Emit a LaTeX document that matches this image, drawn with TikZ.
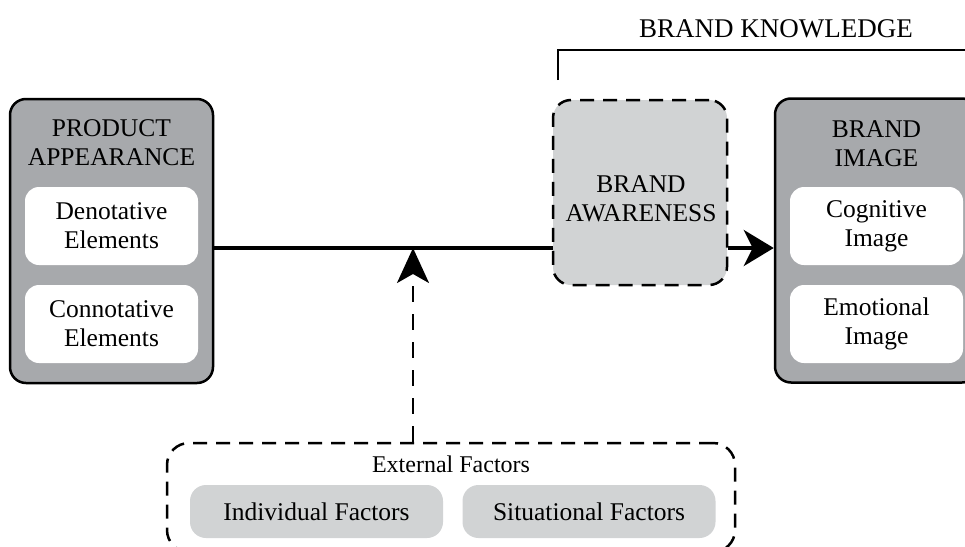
\documentclass[tikz,border=0pt]{standalone}
\usepackage{fontspec}
\setmainfont{Liberation Serif}
\usetikzlibrary{arrows.meta}
\definecolor{darkbox}{HTML}{A7A9AC}
\definecolor{lightbox}{HTML}{D1D3D4}
\begin{document}
\begin{tikzpicture}[x=1pt,y=-1pt,
  txt/.style={font=\fontsize{25.5}{29}\selectfont, align=center, inner sep=0pt},
  outerbox/.style={draw=black, line width=2.5pt, fill=darkbox, rounded corners=16pt,
    minimum width=203pt, minimum height=284pt, inner sep=0pt},
  whitebox/.style={txt, fill=white, rounded corners=14pt, minimum width=173pt, minimum height=78pt},
  dashbox/.style={draw=black, line width=2.5pt, dash pattern=on 14pt off 9pt, rounded corners=18pt, inner sep=0pt},
  greybox/.style={txt, fill=lightbox, rounded corners=16pt, minimum width=253pt, minimum height=53pt},
  mainline/.style={line width=4pt},
  bigtip/.style={-{Stealth[length=30pt,width=36pt,inset=9pt]}},
  uptip/.style={-{Stealth[length=35pt,width=32pt,inset=9pt]}},
  bracket/.style={line width=2.3pt}
]
\useasboundingbox (0,0) rectangle (965,546);
\coordinate (mainy) at (0,248);
\coordinate (junction) at (413,248);

% main line (drawn first, boxes cover its ends)
\node[outerbox] (pa) at (111.5,241) {};
\node[outerbox] (bi) at (876.5,240.5) {};
\draw[mainline] (pa.east |- mainy) -- (junction) -- (553,248) coordinate (bal);

% Brand awareness
\node[dashbox, fill=lightbox, minimum width=174pt, minimum height=185pt] (ba) at (640,192.5) {};
\node[txt] (batxt) at (641,199) {BRAND\\AWARENESS};
\draw[mainline, bigtip] (ba.east |- mainy) -- (bi.west |- mainy);

% Product appearance
\node[txt] (patitle) at (111.5,143) {PRODUCT\\APPEARANCE};
\node[whitebox] (paden) at (111.5,226) {Denotative\\Elements};
\node[whitebox] (pacon) at (111.5,324) {Connotative\\Elements};

% Brand image
\node[txt] (bititle) at (876.5,144) {BRAND\\IMAGE};
\node[whitebox] (bicog) at (876.5,226) {Cognitive\\Image};
\node[whitebox] (biemo) at (876.5,324) {Emotional\\Image};

% Brand knowledge bracket
\node[txt, font=\fontsize{27}{30}\selectfont] (bk) at (776,29) {BRAND KNOWLEDGE};
\coordinate (bkstart) at (558,80);
\coordinate (bkend) at (990,50);
\draw[bracket] (bkstart) |- (bkend);

% External factors
\node[dashbox, minimum width=568pt, minimum height=109pt, rounded corners=22pt] (ef) at (451,497.5) {};
\node[txt, font=\fontsize{24}{28}\selectfont] (eftitle) at (451,464) {External Factors};
\node[greybox] (ind) at (316.5,511.5) {Individual Factors};
\node[greybox] (sit) at (589,511.5) {Situational Factors};
\draw[line width=2.5pt, dash pattern=on 16pt off 12pt, uptip] (junction |- ef.north) -- (junction);
\end{tikzpicture}
\end{document}
